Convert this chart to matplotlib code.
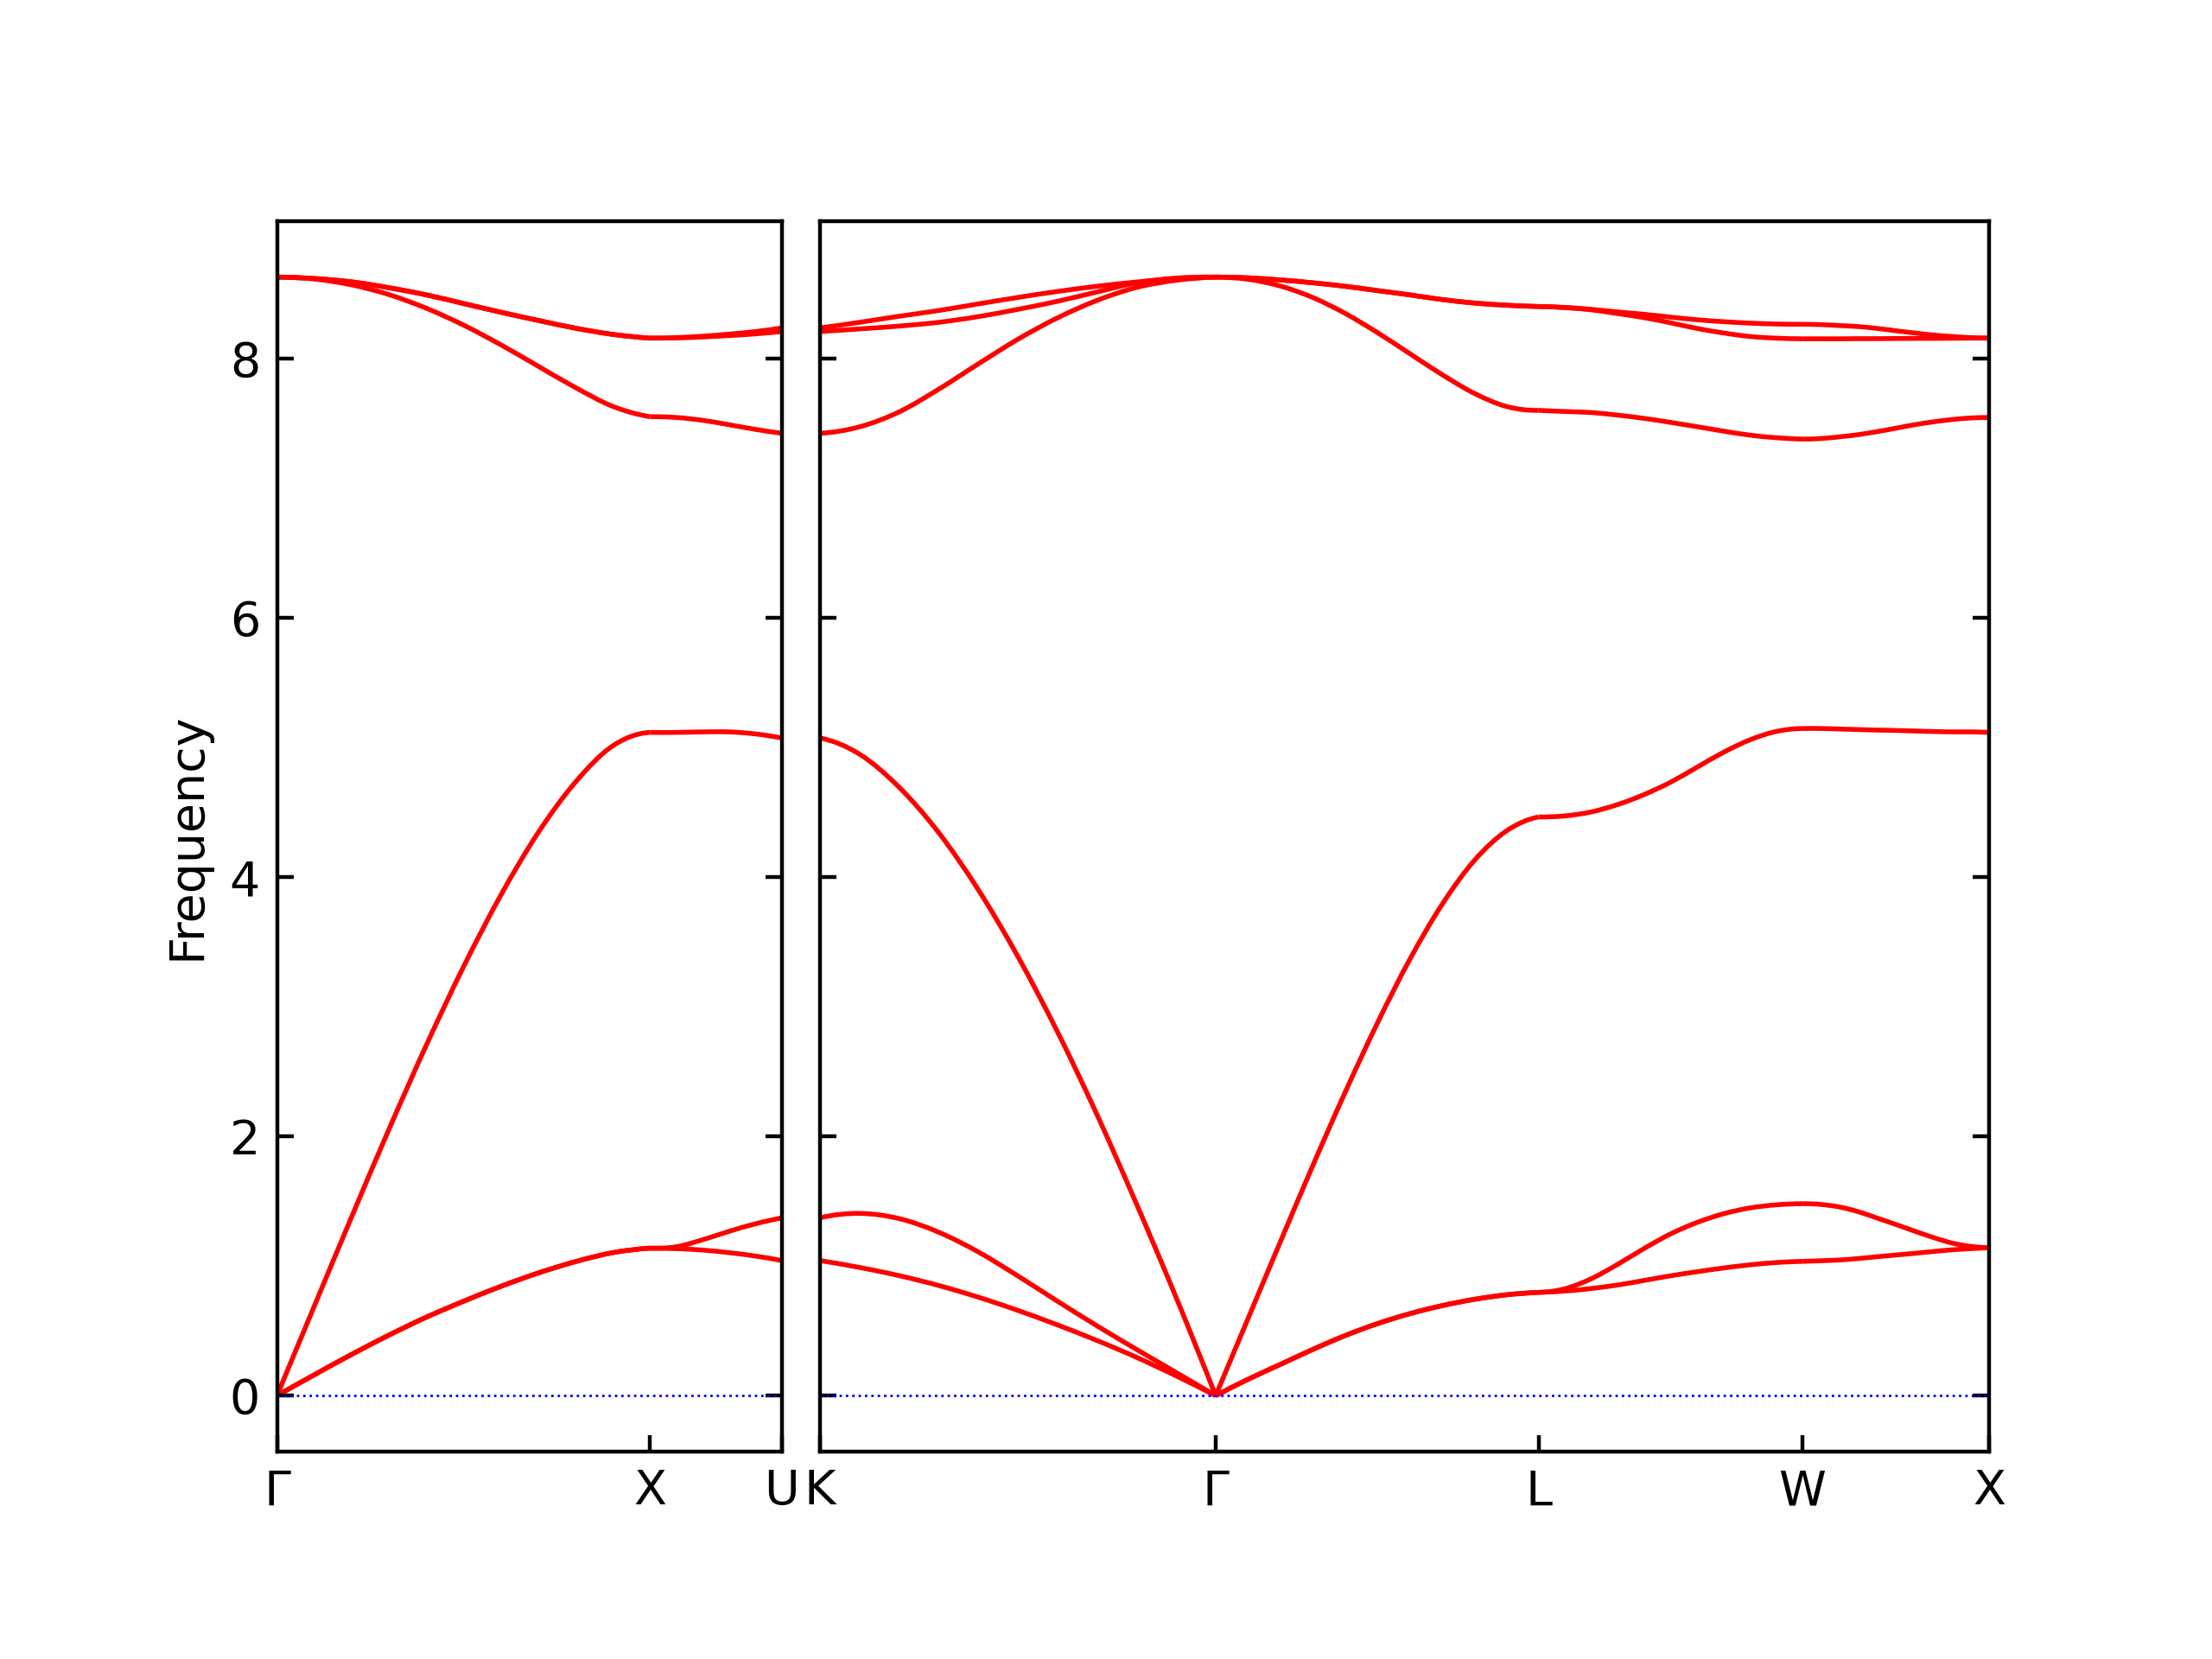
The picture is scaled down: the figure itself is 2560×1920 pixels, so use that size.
"""Phonon band structure along Γ-X-U | K-Γ-L-W-X (two panels)."""
import matplotlib
matplotlib.use("Agg")
import matplotlib.pyplot as plt
import numpy as np
from matplotlib.path import Path
from matplotlib.patches import PathPatch

# path pieces: k-distance of every segment (2π/a units)
left_lengths = [1.0, 0.3536]                    # Γ-X, X-U
right_lengths = [1.0607, 0.8660, 0.7071, 0.5]   # K-Γ, Γ-L, L-W, W-X
left_labels = ["Γ", "X", "U"]
right_labels = ["K", "Γ", "L", "W", "X"]

# frequencies read along each segment, six branches (low -> high)
bands_GX = [
    [0, 0.161, 0.318, 0.467, 0.605, 0.728, 0.843, 0.946, 1.034, 1.103, 1.138],
    [0, 0.161, 0.318, 0.467, 0.605, 0.728, 0.843, 0.946, 1.034, 1.103, 1.138],
    [0, 0.690, 1.378, 2.053, 2.701, 3.308, 3.860, 4.342, 4.732, 5.012, 5.116],
    [8.628, 8.613, 8.568, 8.493, 8.388, 8.258, 8.106, 7.941, 7.776, 7.631, 7.551],
    [8.628, 8.617, 8.591, 8.546, 8.491, 8.424, 8.357, 8.294, 8.234, 8.186, 8.157],
    [8.628, 8.617, 8.591, 8.546, 8.491, 8.424, 8.357, 8.294, 8.234, 8.186, 8.157],
]
bands_XU = [
    [1.138, 1.134, 1.123, 1.103, 1.077, 1.042],
    [1.138, 1.149, 1.203, 1.268, 1.326, 1.372],
    [5.116, 5.116, 5.120, 5.120, 5.104, 5.073],
    [7.551, 7.545, 7.523, 7.489, 7.453, 7.423],
    [8.157, 8.159, 8.166, 8.177, 8.190, 8.208],
    [8.157, 8.161, 8.172, 8.188, 8.208, 8.236],
]
bands_KG = [
    [1.042, 0.989, 0.926, 0.850, 0.760, 0.658, 0.546, 0.426, 0.296, 0.153, 0],
    [1.372, 1.406, 1.366, 1.261, 1.109, 0.924, 0.729, 0.539, 0.357, 0.179, 0],
    [5.073, 4.948, 4.693, 4.343, 3.903, 3.388, 2.808, 2.168, 1.478, 0.758, 0],
    [7.423, 7.473, 7.588, 7.763, 7.958, 8.148, 8.313, 8.448, 8.548, 8.603, 8.628],
    [8.208, 8.228, 8.250, 8.279, 8.323, 8.379, 8.441, 8.513, 8.584, 8.620, 8.628],
    [8.236, 8.279, 8.326, 8.370, 8.421, 8.471, 8.517, 8.557, 8.590, 8.615, 8.628],
]
bands_GL = [
    [0, 0.126, 0.241, 0.356, 0.463, 0.555, 0.632, 0.694, 0.743, 0.778, 0.797],
    [0, 0.126, 0.241, 0.356, 0.463, 0.555, 0.632, 0.694, 0.743, 0.778, 0.797],
    [0, 0.594, 1.186, 1.771, 2.336, 2.871, 3.361, 3.786, 4.126, 4.356, 4.464],
    [8.628, 8.611, 8.559, 8.471, 8.349, 8.201, 8.039, 7.877, 7.732, 7.630, 7.600],
    [8.628, 8.622, 8.606, 8.584, 8.557, 8.524, 8.491, 8.455, 8.428, 8.411, 8.401],
    [8.628, 8.622, 8.606, 8.584, 8.557, 8.524, 8.491, 8.455, 8.428, 8.411, 8.401],
]
bands_LW = [
    [0.797, 0.807, 0.827, 0.854, 0.889, 0.925, 0.956, 0.985, 1.009, 1.027, 1.036],
    [0.797, 0.825, 0.903, 1.014, 1.136, 1.248, 1.336, 1.403, 1.448, 1.472, 1.481],
    [4.464, 4.472, 4.503, 4.560, 4.637, 4.732, 4.847, 4.962, 5.058, 5.123, 5.146],
    [7.600, 7.591, 7.583, 7.563, 7.538, 7.507, 7.474, 7.440, 7.409, 7.389, 7.378],
    [8.401, 8.392, 8.375, 8.346, 8.315, 8.275, 8.232, 8.197, 8.170, 8.157, 8.152],
    [8.401, 8.394, 8.379, 8.359, 8.341, 8.319, 8.299, 8.284, 8.273, 8.266, 8.264],
]
bands_WX = [
    [1.036, 1.041, 1.047, 1.058, 1.072, 1.085, 1.098, 1.112, 1.125, 1.134, 1.141],
    [1.481, 1.475, 1.455, 1.419, 1.370, 1.321, 1.270, 1.221, 1.178, 1.152, 1.141],
    [5.146, 5.146, 5.142, 5.138, 5.134, 5.131, 5.127, 5.123, 5.120, 5.120, 5.116],
    [7.378, 7.383, 7.396, 7.413, 7.436, 7.462, 7.489, 7.511, 7.529, 7.541, 7.545],
    [8.152, 8.152, 8.152, 8.153, 8.153, 8.154, 8.155, 8.155, 8.156, 8.157, 8.157],
    [8.264, 8.261, 8.254, 8.246, 8.232, 8.214, 8.197, 8.181, 8.170, 8.161, 8.157],
]

left_segments = [bands_GX, bands_XU]
right_segments = [bands_KG, bands_GL, bands_LW, bands_WX]

fmax = max(max(b) for seg in left_segments + right_segments for b in seg)
ylim = (-0.05 * fmax, 1.05 * fmax)

fig = plt.figure(figsize=(6.4, 4.8), dpi=400)
ax_l = fig.add_axes([0.1252, 0.125, 0.2283, 0.7417])
ax_r = fig.add_axes([0.3707, 0.125, 0.5285, 0.7417])


def smooth_path(x, y):
    # Catmull-Rom drawn as cubic Bezier pieces through the read points,
    # end tangents taken from a parabola through the last three points
    p = np.column_stack([x, y])
    n = len(p)
    m = np.empty_like(p)
    m[1:-1] = (p[2:] - p[:-2]) / 2
    m[0] = (-3 * p[0] + 4 * p[1] - p[2]) / 2
    m[-1] = (3 * p[-1] - 4 * p[-2] + p[-3]) / 2
    verts = [p[0]]
    codes = [Path.MOVETO]
    for i in range(n - 1):
        verts += [p[i] + m[i] / 3, p[i + 1] - m[i + 1] / 3, p[i + 1]]
        codes += [Path.CURVE4] * 3
    return Path(verts, codes)


def draw_panel(ax, lengths, segments, labels):
    edges = np.concatenate([[0], np.cumsum(lengths)])
    for i, seg in enumerate(segments):
        for band in seg:
            x = np.linspace(edges[i], edges[i + 1], len(band))
            ax.add_patch(PathPatch(smooth_path(x, band), fill=False,
                                   edgecolor="r", lw=1.0, joinstyle="round"))
    ax.axhline(0, color="b", ls=":", lw=0.5)
    ax.set_xlim(edges[0], edges[-1])
    ax.set_ylim(*ylim)
    ax.set_xticks(edges)
    ax.set_xticklabels(labels)
    ax.set_yticks([0, 2, 4, 6, 8])
    ax.tick_params(direction="in", right=True, top=False)


draw_panel(ax_l, left_lengths, left_segments, left_labels)
draw_panel(ax_r, right_lengths, right_segments, right_labels)
ax_r.set_yticklabels([])
ax_l.set_ylabel("Frequency")

fig.savefig("out.png", dpi=400, facecolor="white")
